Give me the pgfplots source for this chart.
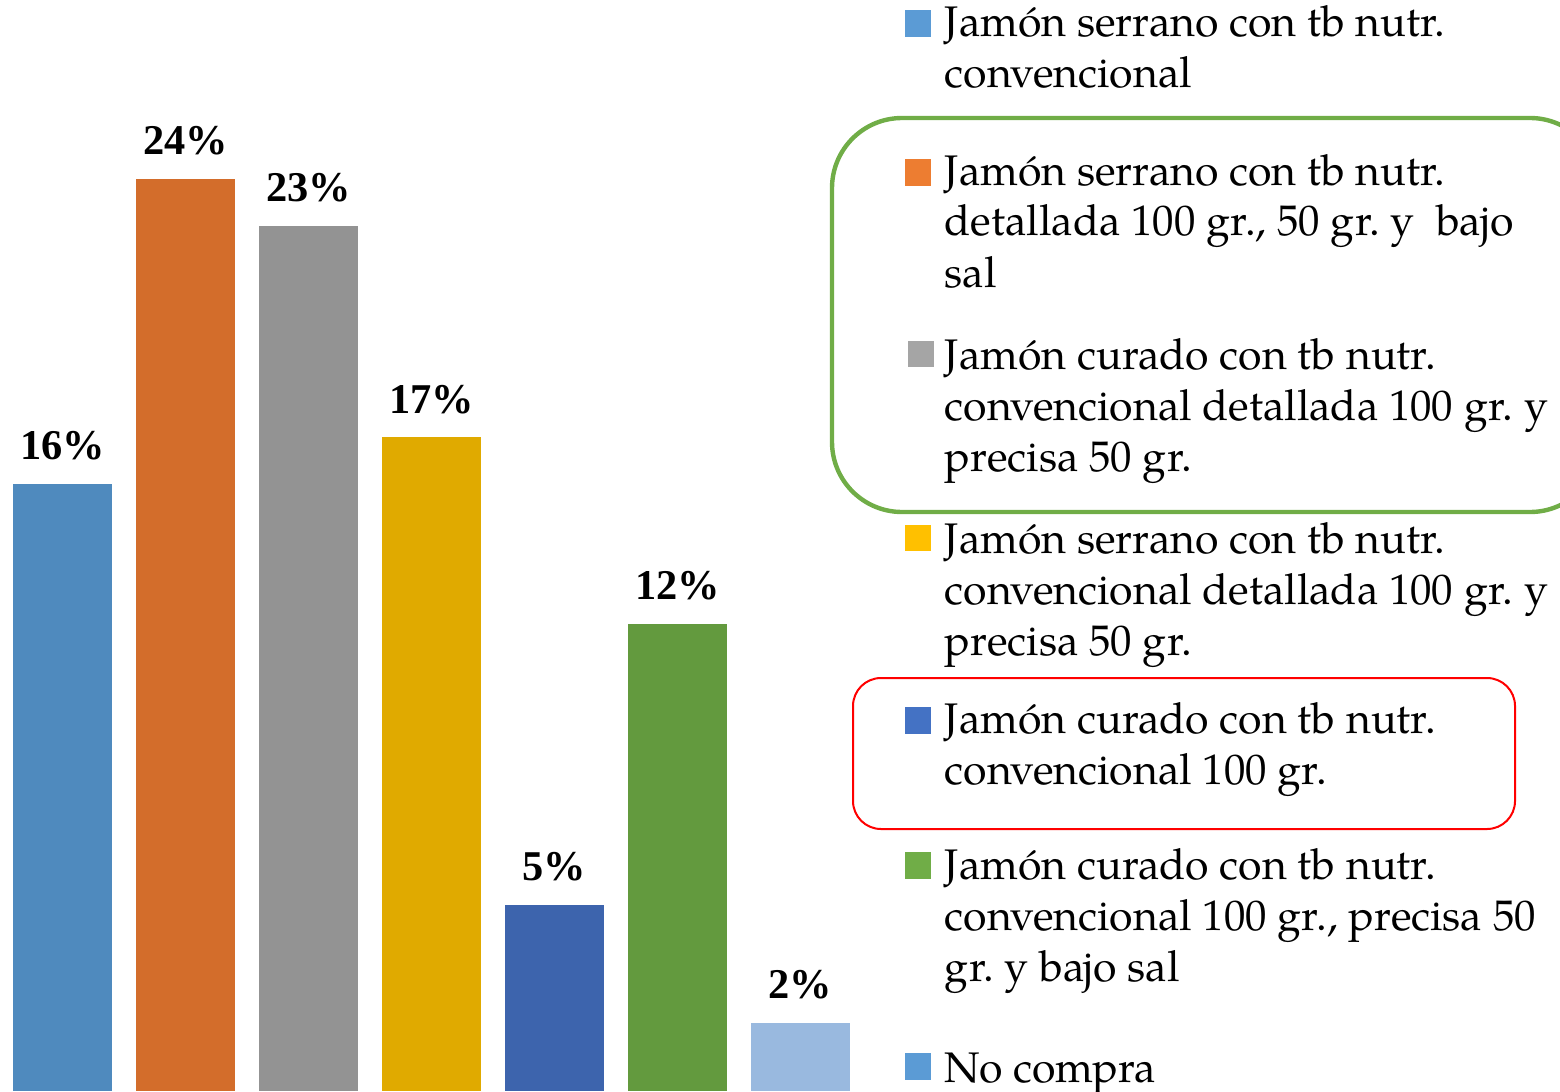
\documentclass[border=0pt]{standalone}
\usepackage{pgfplots}
\pgfplotsset{compat=1.18}
\usepackage{fontspec}
\newfontfamily\legfont{texgyrepagella-regular.otf}
\newfontfamily\labfont{Liberation Serif}
\definecolor{b1}{HTML}{4F8ABE}
\definecolor{b2}{HTML}{D36D2B}
\definecolor{b3}{HTML}{939393}
\definecolor{b4}{HTML}{E0AA00}
\definecolor{b5}{HTML}{3D64AD}
\definecolor{b6}{HTML}{639A3E}
\definecolor{b7}{HTML}{99B9DF}
\definecolor{l1}{HTML}{5B9BD5}
\definecolor{l2}{HTML}{ED7D31}
\definecolor{l3}{HTML}{A5A5A5}
\definecolor{l4}{HTML}{FFC000}
\definecolor{l5}{HTML}{4472C4}
\definecolor{l6}{HTML}{70AD47}
\definecolor{frg}{HTML}{70AD47}
\definecolor{frr}{HTML}{FF0000}
\frenchspacing
\begin{document}
\begin{tikzpicture}[x=0.25pt,y=-0.25pt]
\useasboundingbox (0,0) rectangle (1560,1091);
\coordinate (origin) at (1,1091);
\begin{axis}[
  at={(origin)}, anchor=south west,
  scale only axis, width=215.25pt, height=272.75pt,
  xmin=-0.5, xmax=6.5, ymin=0, ymax=28.71,
  axis lines=none, ticks=none,
  ybar, bar width=24.75pt, bar shift=0pt,
  point meta=explicit symbolic,
  nodes near coords,
  every node near coord/.append style={font=\labfont\bfseries\fontsize{10.6pt}{12pt}\selectfont, inner sep=0pt, anchor=south, yshift=5.75pt},
  clip=false
]
\addplot[draw=none, fill=b1] coordinates {(0,15.97) [16\%]};
\addplot[draw=none, fill=b2] coordinates {(1,24.0) [24\%]};
\addplot[draw=none, fill=b3] coordinates {(2,22.76) [23\%]};
\addplot[draw=none, fill=b4] coordinates {(3,17.2) [17\%]};
\addplot[draw=none, fill=b5] coordinates {(4,4.9) [5\%]};
\addplot[draw=none, fill=b6] coordinates {(5,12.3) [12\%]};
\addplot[draw=none, fill=b7] coordinates {(6,1.8) [2\%]};
\end{axis}
% frames
\draw[frg, line width=1.1pt, rounded corners=17.5pt] (832,118) rectangle (1600,512);
\draw[frr, line width=0.5pt, rounded corners=7pt] (853,678) rectangle (1515,829);
% legend
\begin{scope}[every node/.style={anchor=base west, inner sep=0pt, font=\legfont\fontsize{10.7pt}{12pt}\selectfont}]
\fill[l1] (905,10) rectangle (931,37);
\node at (944,37) {Jamón serrano con tb nutr.};
\node at (944,88) {convencional};
\fill[l2] (905,159) rectangle (931,186);
\node at (944,185) {Jamón serrano con tb nutr.};
\node at (944,236) {detallada 100 gr., 50 gr. y\ \ bajo};
\node at (944,287) {sal};
\fill[l3] (908,341) rectangle (934,367);
\node at (944,369) {Jamón curado con tb nutr.};
\node at (944,420) {convencional detallada 100 gr. y};
\node at (944,471) {precisa 50 gr.};
\fill[l4] (905,525) rectangle (931,551);
\node at (944,553) {Jamón serrano con tb nutr.};
\node at (944,604) {convencional detallada 100 gr. y};
\node at (944,655) {precisa 50 gr.};
\fill[l5] (905,707) rectangle (931,734);
\node at (944,733) {Jamón curado con tb nutr.};
\node at (944,784) {convencional 100 gr.};
\fill[l6] (905,852) rectangle (931,879);
\node at (944,879) {Jamón curado con tb nutr.};
\node at (944,930) {convencional 100 gr., precisa 50};
\node at (944,981) {gr. y bajo sal};
\fill[l1] (905,1053) rectangle (931,1080);
\node at (944,1082) {No compra};
\end{scope}
\end{tikzpicture}
\end{document}
